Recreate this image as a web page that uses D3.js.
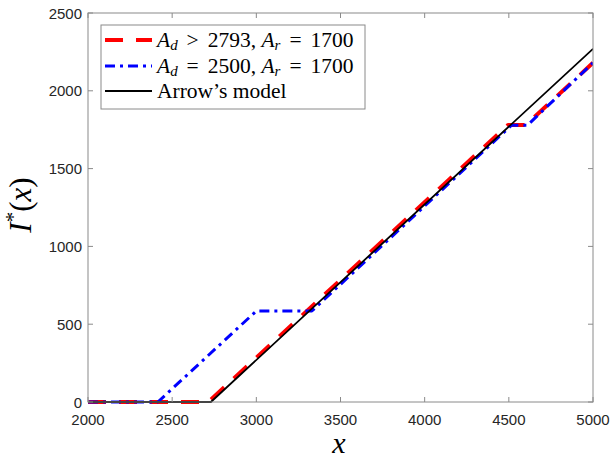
<!DOCTYPE html>
<html>
<head>
<meta charset="utf-8">
<script src="https://cdn.jsdelivr.net/npm/d3@7"></script>
<style>
  html, body { margin: 0; padding: 0; background: #fff; }
  svg { display: block; }
</style>
</head>
<body>
<svg id="chart" width="611" height="460"></svg>
<script>
// === Datos ===
const xTicks = [2000, 2500, 3000, 3500, 4000, 4500, 5000];
const yTicks = [0, 500, 1000, 1500, 2000, 2500];

// A_d > 2793, A_r = 1700
const redSeries = [[2000, 0], [2715, 0], [4495, 1780], [4600, 1780], [5000, 2180]];
// A_d = 2500, A_r = 1700
const blueSeries = [[2000, 0], [2415, 0], [3000, 585], [3330, 585], [4515, 1778], [4610, 1778], [5000, 2180]];
// Arrow's model
const blackSeries = [[2000, 0], [2730, 0], [5000, 2270]];

// === Layout ===
const svg = d3.select('#chart');
const mLeft = 88, mRight = 593, mTop = 13, mBottom = 402;
const axisColor = '#8a8a8a';
const tickFont = '"Liberation Sans", Arial, sans-serif';
const texFont = '"Liberation Serif", "Times New Roman", serif';

const x = d3.scaleLinear().domain([2000, 5000]).range([mLeft, mRight]);
const y = d3.scaleLinear().domain([0, 2500]).range([mBottom, mTop]);

svg.append('clipPath').attr('id', 'clip')
  .append('rect').attr('x', mLeft).attr('y', mTop - 2).attr('width', mRight - mLeft).attr('height', mBottom - mTop + 4);

const line = d3.line().x(d => x(d[0])).y(d => y(d[1]));
const plot = svg.append('g').attr('clip-path', 'url(#clip)');

const styles = {
  red: { color: '#ff0000', width: 4, dash: '18,13' },
  blue: { color: '#0000ff', width: 3, dash: '10,5,3,5' },
  black: { color: '#000000', width: 1.8, dash: null }
};

function drawSeries(data, s) {
  plot.append('path')
    .datum(data)
    .attr('d', line)
    .attr('fill', 'none')
    .attr('stroke', s.color)
    .attr('stroke-width', s.width)
    .attr('stroke-dasharray', s.dash)
    .attr('stroke-linejoin', 'round');
}
drawSeries(redSeries, styles.red);
drawSeries(blueSeries, styles.blue);
drawSeries(blackSeries, styles.black);

// === Ejes (caja con ticks hacia adentro) ===
const tl = 5;
const axes = svg.append('g');
axes.append('rect')
  .attr('x', mLeft).attr('y', mTop).attr('width', mRight - mLeft).attr('height', mBottom - mTop)
  .attr('fill', 'none').attr('stroke', axisColor).attr('stroke-width', 1);

xTicks.forEach(t => {
  const px = x(t);
  axes.append('line').attr('x1', px).attr('x2', px).attr('y1', mBottom).attr('y2', mBottom - tl).attr('stroke', axisColor);
  axes.append('line').attr('x1', px).attr('x2', px).attr('y1', mTop).attr('y2', mTop + tl).attr('stroke', axisColor);
  axes.append('text').attr('x', px).attr('y', 425)
    .attr('text-anchor', 'middle').attr('font-family', tickFont).attr('font-size', 15).attr('fill', '#262626')
    .text(t);
});
yTicks.forEach(t => {
  const py = y(t);
  axes.append('line').attr('x1', mLeft).attr('x2', mLeft + tl).attr('y1', py).attr('y2', py).attr('stroke', axisColor);
  axes.append('line').attr('x1', mRight).attr('x2', mRight - tl).attr('y1', py).attr('y2', py).attr('stroke', axisColor);
  axes.append('text').attr('x', 82).attr('y', py + 5.5)
    .attr('text-anchor', 'end').attr('font-family', tickFont).attr('font-size', 15).attr('fill', '#262626')
    .text(t);
});

// etiquetas de ejes
svg.append('text').attr('x', 339).attr('y', 453)
  .attr('text-anchor', 'middle').attr('font-family', texFont).attr('font-style', 'italic').attr('font-size', 30)
  .text('x');

const yl = svg.append('text')
  .attr('transform', 'translate(31,205) rotate(-90)')
  .attr('text-anchor', 'middle').attr('font-family', texFont).attr('font-size', 31);
yl.append('tspan').attr('font-style', 'italic').text('I');
yl.append('tspan').attr('dy', -11).attr('font-size', 21).text('*');
yl.append('tspan').attr('dy', 11).text('(');
yl.append('tspan').attr('font-style', 'italic').text('x');
yl.append('tspan').text(')');

// === Leyenda ===
const lg = svg.append('g');
lg.append('rect').attr('x', 101).attr('y', 25).attr('width', 264).attr('height', 84)
  .attr('fill', '#fff').attr('stroke', axisColor).attr('stroke-width', 1);

const sp = '\u2006';
const legendRows = [
  { s: styles.red, parts: [['A', 'i'], ['d', 's'], [sp + ' > ' + sp + '2793, ', 'n'], ['A', 'i'], ['r', 's'], [sp + ' = ' + sp + '1700', 'n']] },
  { s: styles.blue, parts: [['A', 'i'], ['d', 's'], [sp + ' = ' + sp + '2500, ', 'n'], ['A', 'i'], ['r', 's'], [sp + ' = ' + sp + '1700', 'n']] },
  { s: styles.black, parts: [['Arrow\u2019s model', 'n']] }
];
const rowY = [40, 66, 91];
legendRows.forEach((r, i) => {
  const yy = rowY[i];
  lg.append('line').attr('x1', 105).attr('x2', 152).attr('y1', yy).attr('y2', yy)
    .attr('stroke', r.s.color).attr('stroke-width', r.s.width).attr('stroke-dasharray', r.s.dash);
  const t = lg.append('text').attr('x', 157).attr('y', yy + 7)
    .attr('font-family', texFont).attr('font-size', 21.5).attr('fill', '#000')
    .attr('xml:space', 'preserve');
  let sub = false;
  r.parts.forEach(([txt, kind]) => {
    const ts = t.append('tspan').text(txt);
    if (kind === 'i') ts.attr('font-style', 'italic');
    if (kind === 's') { ts.attr('font-style', 'italic').attr('font-size', 15).attr('dy', 3); sub = true; }
    else if (sub) { ts.attr('dy', -3); sub = false; }
  });
});
</script>
</body>
</html>
